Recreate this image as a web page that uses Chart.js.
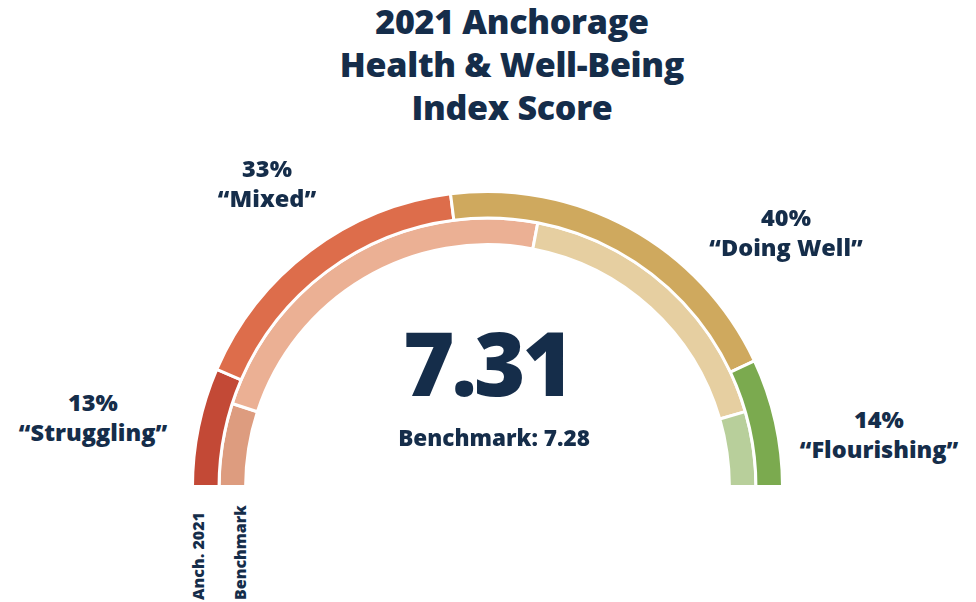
<!DOCTYPE html>
<html>
<head>
<meta charset="utf-8">
<script src="https://cdn.jsdelivr.net/npm/chart.js@4/dist/chart.umd.min.js"></script>
<style>
  html, body { margin: 0; padding: 0; background: #fff; }
  body { width: 976px; height: 602px; position: relative; overflow: hidden;
         font-family: "Open Sans", "Noto Sans", sans-serif; font-weight: 800; color: #152d4a; }
  #title { position: absolute; left: 24px; width: 976px; top: 0; text-align: center;
           font-size: 34px; line-height: 43px; letter-spacing: -0.3px; }
  #chartBox { position: absolute; left: 189px; top: 190px; width: 597px; height: 298px; }
  .lbl { position: absolute; transform: translate(-50%, -50%); text-align: center;
         white-space: nowrap; font-size: 23.5px; line-height: 30px; }
  #score { position: absolute; left: 487px; top: 362px; transform: translate(-50%, -50%);
           font-size: 88px; letter-spacing: -3px; line-height: 1; }
  #bench { position: absolute; left: 494px; top: 437px; transform: translate(-50%, -50%);
           font-size: 22.5px; white-space: nowrap; }
  .rot { position: absolute; transform: rotate(-90deg); transform-origin: 0 0;
         font-size: 16px; line-height: 18px; white-space: nowrap; }
</style>
</head>
<body>
<div id="title">2021 Anchorage<br>Health &amp; Well-Being<br>Index Score</div>
<div id="chartBox"><canvas id="gauge"></canvas></div>
<div id="score"></div>
<div id="bench"></div>
<div id="labels"></div>
<div class="rot" id="rot0" style="left:189px; top:600px;"></div>
<div class="rot" id="rot1" style="left:231px; top:600px;"></div>

<script>
const categories = ["Struggling", "Mixed", "Doing Well", "Flourishing"];
const anchorage2021 = [13, 33, 40, 14];
const benchmark = [10, 46, 35, 9];
const seriesNames = ["Anch. 2021", "Benchmark"];
const score = 7.31;
const benchmarkScore = 7.28;

const outerColors = ["#c34936", "#dd6d4b", "#cfa95e", "#7baa4f"];
const innerColors = ["#dd9c7f", "#ebb094", "#e6cfa1", "#b8cf9b"];

// where each category label sits (centre of the two-line block)
const labelPos = [[93, 417], [267, 183], [786, 232], [879, 434]];

const labelsEl = document.getElementById("labels");
categories.forEach((cat, i) => {
  const div = document.createElement("div");
  div.className = "lbl";
  div.style.left = labelPos[i][0] + "px";
  div.style.top = labelPos[i][1] + "px";
  div.innerHTML = `${anchorage2021[i]}%<br>\u201c${cat}\u201d`;
  labelsEl.appendChild(div);
});

document.getElementById("score").textContent = score.toFixed(2);
document.getElementById("bench").textContent = `Benchmark: ${benchmarkScore.toFixed(2)}`;
document.getElementById("rot0").textContent = seriesNames[0];
document.getElementById("rot1").textContent = seriesNames[1];

new Chart(document.getElementById("gauge"), {
  type: "doughnut",
  data: {
    labels: categories,
    datasets: [
      {
        label: seriesNames[0],
        data: anchorage2021,
        backgroundColor: outerColors,
        borderColor: "#fff",
        borderWidth: 3
      },
      {
        label: seriesNames[1],
        data: benchmark,
        backgroundColor: innerColors,
        borderColor: "#fff",
        borderWidth: 3
      }
    ]
  },
  options: {
    responsive: true,
    maintainAspectRatio: false,
    animation: false,
    rotation: -90,
    circumference: 180,
    cutout: "82%",
    layout: { padding: 0 },
    plugins: {
      legend: { display: false },
      tooltip: { enabled: false }
    }
  }
});
</script>
</body>
</html>
